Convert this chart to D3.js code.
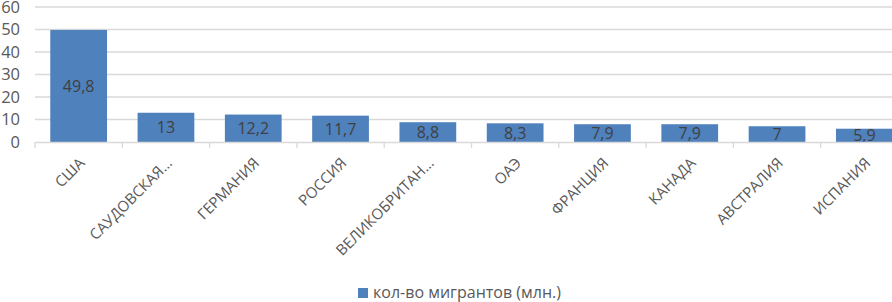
<!DOCTYPE html>
<html><head><meta charset="utf-8">
<script src="https://cdn.jsdelivr.net/npm/d3@7"></script>
<style>html,body{margin:0;padding:0;background:#fff;overflow:hidden}</style>
</head><body>
<svg id="c" width="892" height="302"></svg>
<script>
const categories = ["США","САУДОВСКАЯ…","ГЕРМАНИЯ","РОССИЯ","ВЕЛИКОБРИТАН…","ОАЭ","ФРАНЦИЯ","КАНАДА","АВСТРАЛИЯ","ИСПАНИЯ"];
const values = [49.8,13,12.2,11.7,8.8,8.3,7.9,7.9,7,5.9];
const labels = ["49,8","13","12,2","11,7","8,8","8,3","7,9","7,9","7","5,9"];
const yTicks = [0,10,20,30,40,50,60];
const seriesName = "кол-во мигрантов (млн.)";

const font = "'Open Sans', 'Liberation Sans', sans-serif";
const svg = d3.select("#c");
const x = d3.scaleBand().domain(categories).range([35, 908]).paddingInner(0.35).paddingOuter(0.175);
const y = d3.scaleLinear().domain([0,60]).range([142, 7]);

// gridlines
svg.append("g").selectAll("line").data(yTicks.filter(d=>d>0)).join("line")
  .attr("x1",35).attr("x2",892).attr("y1",d=>y(d)).attr("y2",d=>y(d))
  .attr("stroke","#d9d9d9").attr("stroke-width",1.3);

// y labels
svg.append("g").selectAll("text").data(yTicks).join("text")
  .attr("x",20).attr("y",d=>y(d)).attr("dy","0.35em").attr("text-anchor","end")
  .attr("font-family",font).attr("font-size",16.5).attr("fill","#595959").text(d=>d);

// bars
svg.append("g").selectAll("rect").data(values).join("rect")
  .attr("x",(d,i)=>x(categories[i])).attr("width",x.bandwidth())
  .attr("y",d=>y(d)).attr("height",d=>y(0)-y(d)).attr("fill","#4f81bd");

// value labels
svg.append("g").selectAll("text").data(values).join("text")
  .attr("x",(d,i)=>x(categories[i])+x.bandwidth()/2)
  .attr("y",d=>(y(d)+y(0))/2).attr("dy","0.38em").attr("text-anchor","middle")
  .attr("font-family",font).attr("font-size",16).attr("fill","#404040")
  .text((d,i)=>labels[i]);

// x axis
const step = x.step();
svg.append("line").attr("x1",35).attr("x2",892).attr("y1",142.5).attr("y2",142.5).attr("stroke","#d9d9d9").attr("stroke-width",1.3);
svg.append("g").selectAll("line").data(d3.range(categories.length+1)).join("line")
  .attr("x1",i=>35+i*step).attr("x2",i=>35+i*step).attr("y1",142).attr("y2",148)
  .attr("stroke","#d9d9d9").attr("stroke-width",1.3);

// x labels
svg.append("g").selectAll("text").data(categories).join("text")
  .attr("transform",d=>`translate(${x(d)+x.bandwidth()/2+7},${164}) rotate(-45)`)
  .attr("text-anchor","end").attr("font-family",font).attr("font-size",15).attr("fill","#595959")
  .text(d=>d);

// legend
svg.append("rect").attr("x",358).attr("y",288).attr("width",10).attr("height",10).attr("fill","#4f81bd");
svg.append("text").attr("x",373).attr("y",298).attr("font-family",font).attr("font-size",16).attr("fill","#595959").text(seriesName);
</script>
</body></html>
